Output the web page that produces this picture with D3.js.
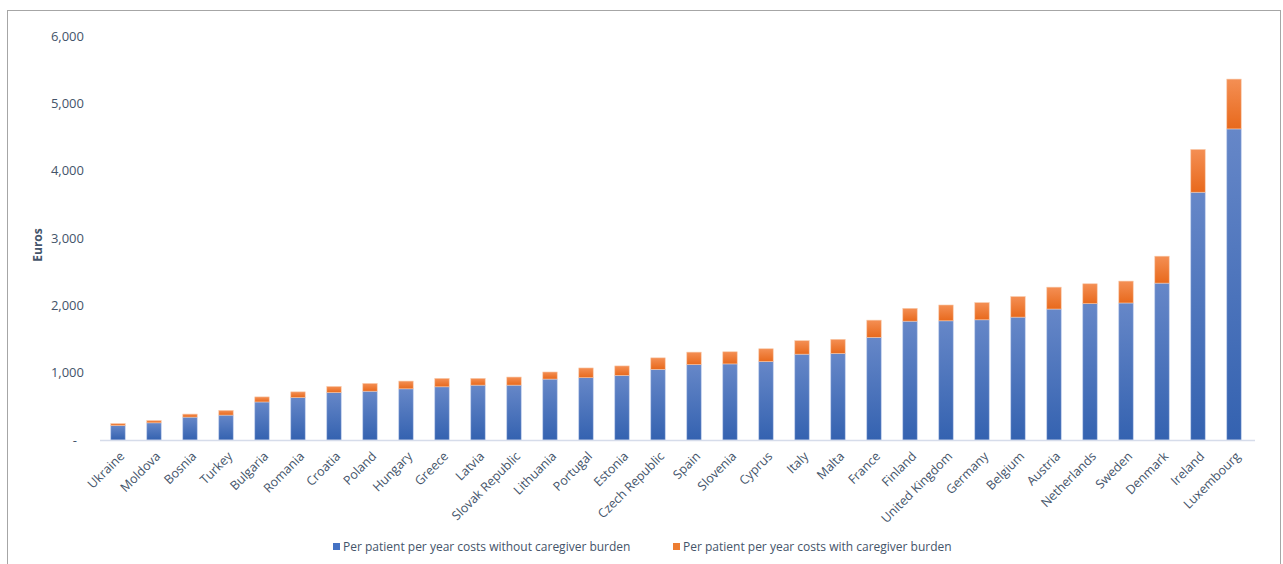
<!DOCTYPE html>
<html>
<head>
<meta charset="utf-8">
<script src="https://cdn.jsdelivr.net/npm/d3@7"></script>
<style>
  body { margin: 0; background: #fff; }
  text { font-family: "Open Sans", "Noto Sans", sans-serif; }
</style>
</head>
<body>
<div id="chart"></div>
<script>
var W = 1283, H = 564;

var countries = ["Ukraine", "Moldova", "Bosnia", "Turkey", "Bulgaria", "Romania", "Croatia", "Poland",
	"Hungary", "Greece", "Latvia", "Slovak Republic", "Lithuania", "Portugal", "Estonia", "Czech Republic",
	"Spain", "Slovenia", "Cyprus", "Italy", "Malta", "France", "Finland", "United Kingdom", "Germany",
	"Belgium", "Austria", "Netherlands", "Sweden", "Denmark", "Ireland", "Luxembourg"];

// per patient per year costs (euros)
var withoutBurden = [215, 255, 340, 370, 565, 630, 705, 725, 760, 790, 815, 815, 905, 925, 960, 1050,
	1120, 1130, 1165, 1275, 1285, 1525, 1765, 1770, 1785, 1825, 1945, 2025, 2035, 2330, 3680, 4620];
var withBurden = [245, 290, 385, 440, 640, 715, 795, 840, 875, 915, 915, 935, 1010, 1070, 1100, 1220,
	1305, 1310, 1355, 1475, 1495, 1780, 1955, 2005, 2040, 2130, 2270, 2320, 2360, 2730, 4315, 5360];

var yTicks = [0, 1000, 2000, 3000, 4000, 5000, 6000];
var seriesNames = ["Per patient per year costs without caregiver burden",
	"Per patient per year costs with caregiver burden"];

var textColor = "#44546a";

var svg = d3.select("#chart").append("svg")
	.attr("width", W)
	.attr("height", H);

var defs = svg.append("defs");
function grad(id, top, bottom) {
	var g = defs.append("linearGradient").attr("id", id)
		.attr("x1", 0).attr("y1", 0).attr("x2", 0).attr("y2", 1);
	g.append("stop").attr("offset", "0%").attr("stop-color", top);
	g.append("stop").attr("offset", "100%").attr("stop-color", bottom);
}
grad("gBlue", "#6687c8", "#3462b0");
grad("gOrange", "#f48f54", "#e8691c");

// outer border
svg.append("rect")
	.attr("x", 7.5).attr("y", 10.5)
	.attr("width", 1273).attr("height", 570)
	.attr("fill", "none")
	.attr("stroke", "#a6a6a6")
	.attr("stroke-width", 1);

var x = d3.scaleBand()
	.domain(countries)
	.range([100, 1252])
	.paddingInner(0.6)
	.paddingOuter(0.3);

var y = d3.scaleLinear()
	.domain([0, 6000])
	.range([440, 36]);

// y axis labels
var yAxis = svg.append("g")
	.attr("transform", "translate(84,0)")
	.call(d3.axisLeft(y).tickValues(yTicks).tickSize(0).tickPadding(0)
		.tickFormat(d => d === 0 ? "-" : d3.format(",")(d)));
yAxis.select(".domain").remove();
yAxis.selectAll("text")
	.attr("x", d => d === 0 ? -7 : 0)
	.style("font-size", "13px")
	.style("font-family", "'Open Sans', sans-serif")
	.attr("fill", textColor);

svg.append("text")
	.attr("transform", "translate(42,245) rotate(-90)")
	.attr("text-anchor", "middle")
	.style("font-size", "12px")
	.style("font-weight", "bold")
	.attr("fill", textColor)
	.text("Euros");

// bars
var bw = x.bandwidth();
svg.append("g").selectAll("rect")
	.data(countries)
	.enter()
	.append("rect")
	.attr("x", d => x(d))
	.attr("y", (d, i) => y(withoutBurden[i]))
	.attr("width", bw)
	.attr("height", (d, i) => y(0) - y(withoutBurden[i]))
	.attr("fill", "url(#gBlue)")
	.attr("stroke", "#b8c8ea")
	.attr("stroke-width", 0.6);

svg.append("g").selectAll("rect")
	.data(countries)
	.enter()
	.append("rect")
	.attr("x", d => x(d))
	.attr("y", (d, i) => y(withBurden[i]))
	.attr("width", bw)
	.attr("height", (d, i) => y(withoutBurden[i]) - y(withBurden[i]))
	.attr("fill", "url(#gOrange)")
	.attr("stroke", "#f8c8a8")
	.attr("stroke-width", 0.6);

// x axis
var xAxis = svg.append("g")
	.attr("transform", "translate(0,440)")
	.call(d3.axisBottom(x).tickSize(0).tickPadding(0));
xAxis.select(".domain")
	.attr("d", "M100,0.5H1255")
	.attr("stroke", "#d6dcea")
	.attr("stroke-width", 1.5);
xAxis.selectAll("text")
	.attr("transform", "translate(4,14) rotate(-45)")
	.attr("dy", "0.35em")
	.attr("text-anchor", "end")
	.style("font-size", "12.5px")
	.style("font-family", "'Open Sans', sans-serif")
	.attr("fill", textColor);

// legend
var legend = svg.append("g");
var lx = [333, 673];
var lc = ["#4472c4", "#ed7d31"];
seriesNames.forEach(function(name, i) {
	legend.append("rect")
		.attr("x", lx[i]).attr("y", 543)
		.attr("width", 7).attr("height", 7)
		.attr("fill", lc[i]);
	legend.append("text")
		.attr("x", lx[i] + 10).attr("y", 551)
		.style("font-size", "12px")
		.attr("fill", textColor)
		.text(name);
});
</script>
</body>
</html>
